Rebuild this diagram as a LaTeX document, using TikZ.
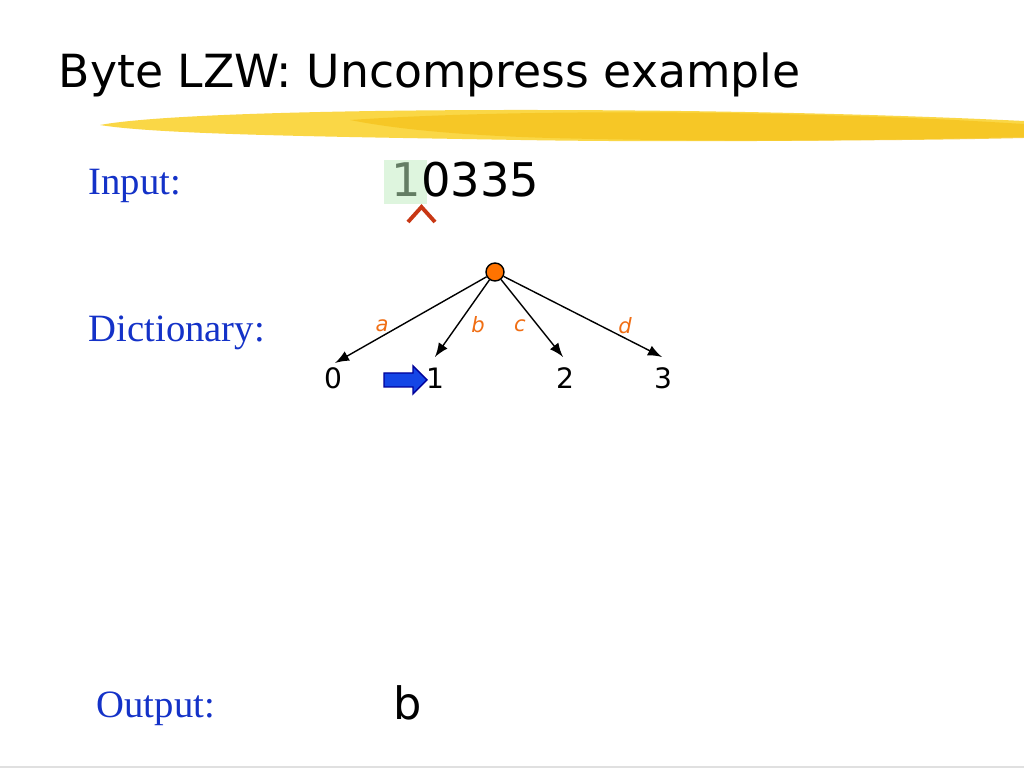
\documentclass[tikz,border=0pt]{standalone}
\usepackage{fontspec}
\setmainfont{Liberation Serif}
\newfontfamily\vsans{DejaVu Sans}
\usepackage{tikz}
\usetikzlibrary{positioning}
\definecolor{labelblue}{RGB}{20,50,200}
\definecolor{edgeorange}{RGB}{240,110,20}
\definecolor{brushyellow}{RGB}{246,196,30}
\definecolor{brushlight}{RGB}{250,215,70}
\definecolor{markgreen}{RGB}{222,245,222}
\definecolor{digitgray}{RGB}{100,125,100}
\definecolor{caretred}{RGB}{200,55,20}
\definecolor{arrowblue}{RGB}{20,70,230}
\tikzset{
  rowlabel/.style={anchor=base west,inner sep=0pt,text=labelblue,font=\fontsize{11}{13}\selectfont},
  leafnum/.style={anchor=base,inner sep=0pt,font=\vsans\fontsize{8}{9}\selectfont},
  edgelabel/.style={inner sep=0pt,text=edgeorange,font=\vsans\itshape\fontsize{6}{7}\selectfont},
  edge/.style={-latex,thin}
}
\begin{document}
\begin{tikzpicture}
\useasboundingbox[fill=white] (0,0) rectangle (10.24,7.68);
\draw[black!12] (0,0.01) -- (10.24,0.01);
\fill[brushlight] (1.0,6.43) .. controls (1.6,6.54) and (3.5,6.58) .. (5.2,6.58)
  .. controls (7.5,6.58) and (9.2,6.52) .. (10.24,6.47) -- (10.24,6.31)
  .. controls (9,6.28) and (7,6.25) .. (5.2,6.28) .. controls (3.5,6.31) and (1.6,6.33) .. (1.0,6.43);
\fill[brushyellow,opacity=0.8] (3.5,6.48) .. controls (5,6.58) and (7,6.57) .. (8.5,6.52)
  .. controls (9.3,6.5) and (9.9,6.46) .. (10.24,6.44) -- (10.24,6.3)
  .. controls (9,6.27) and (7,6.26) .. (5.5,6.3) .. controls (4.5,6.33) and (3.9,6.4) .. (3.5,6.48);
\node[anchor=base west,inner sep=0pt,font=\vsans\fontsize{13}{15}\selectfont] (title) at (0.58,6.80) {Byte LZW: Uncompress example};
\node[rowlabel] (input) at (0.88,5.73) {Input:};
\node[rowlabel] (dict) at (0.88,4.26) {Dictionary:};
\node[rowlabel] (output) at (0.96,0.50) {Output:};
\fill[markgreen] (3.84,5.64) rectangle (4.27,6.08);
\node[anchor=base west,inner sep=0pt,font=\vsans\fontsize{13.2}{15}\selectfont] (code) at (3.91,5.71) {\textcolor{digitgray}{1}0335};
\draw[caretred,line width=1.1pt] (4.08,5.46) -- (4.215,5.61) -- (4.35,5.46);
\node[circle,draw,fill=orange!90!red,inner sep=0pt,minimum size=0.18cm] (root) at (4.95,4.96) {};
\coordinate (leaf0) at (3.35,4.05);
\coordinate (leaf1) at (4.35,4.11);
\coordinate (leaf2) at (5.63,4.11);
\coordinate (leaf3) at (6.62,4.11);
\draw[edge] (root) -- (leaf0);
\draw[edge] (root) -- (leaf1);
\draw[edge] (root) -- (leaf2);
\draw[edge] (root) -- (leaf3);
\node[edgelabel] (la) at (3.82,4.42) {a};
\node[edgelabel] (lb) at (4.78,4.43) {b};
\node[edgelabel] (lc) at (5.20,4.42) {c};
\node[edgelabel] (ld) at (6.25,4.42) {d};
\node[leafnum] (n0) at (3.33,3.79) {0};
\node[leafnum] (n1) at (4.35,3.79) {1};
\node[leafnum] (n2) at (5.65,3.79) {2};
\node[leafnum] (n3) at (6.63,3.79) {3};
\draw[fill=arrowblue,draw=blue!60!black,thin] (3.84,3.81) -- (4.13,3.81) -- (4.13,3.74) -- (4.27,3.88)
  -- (4.13,4.02) -- (4.13,3.95) -- (3.84,3.95) -- cycle;
\node[anchor=base,inner sep=0pt,font=\vsans\fontsize{12.7}{15}\selectfont] (outb) at (4.08,0.48) {b};
\end{tikzpicture}
\end{document}
